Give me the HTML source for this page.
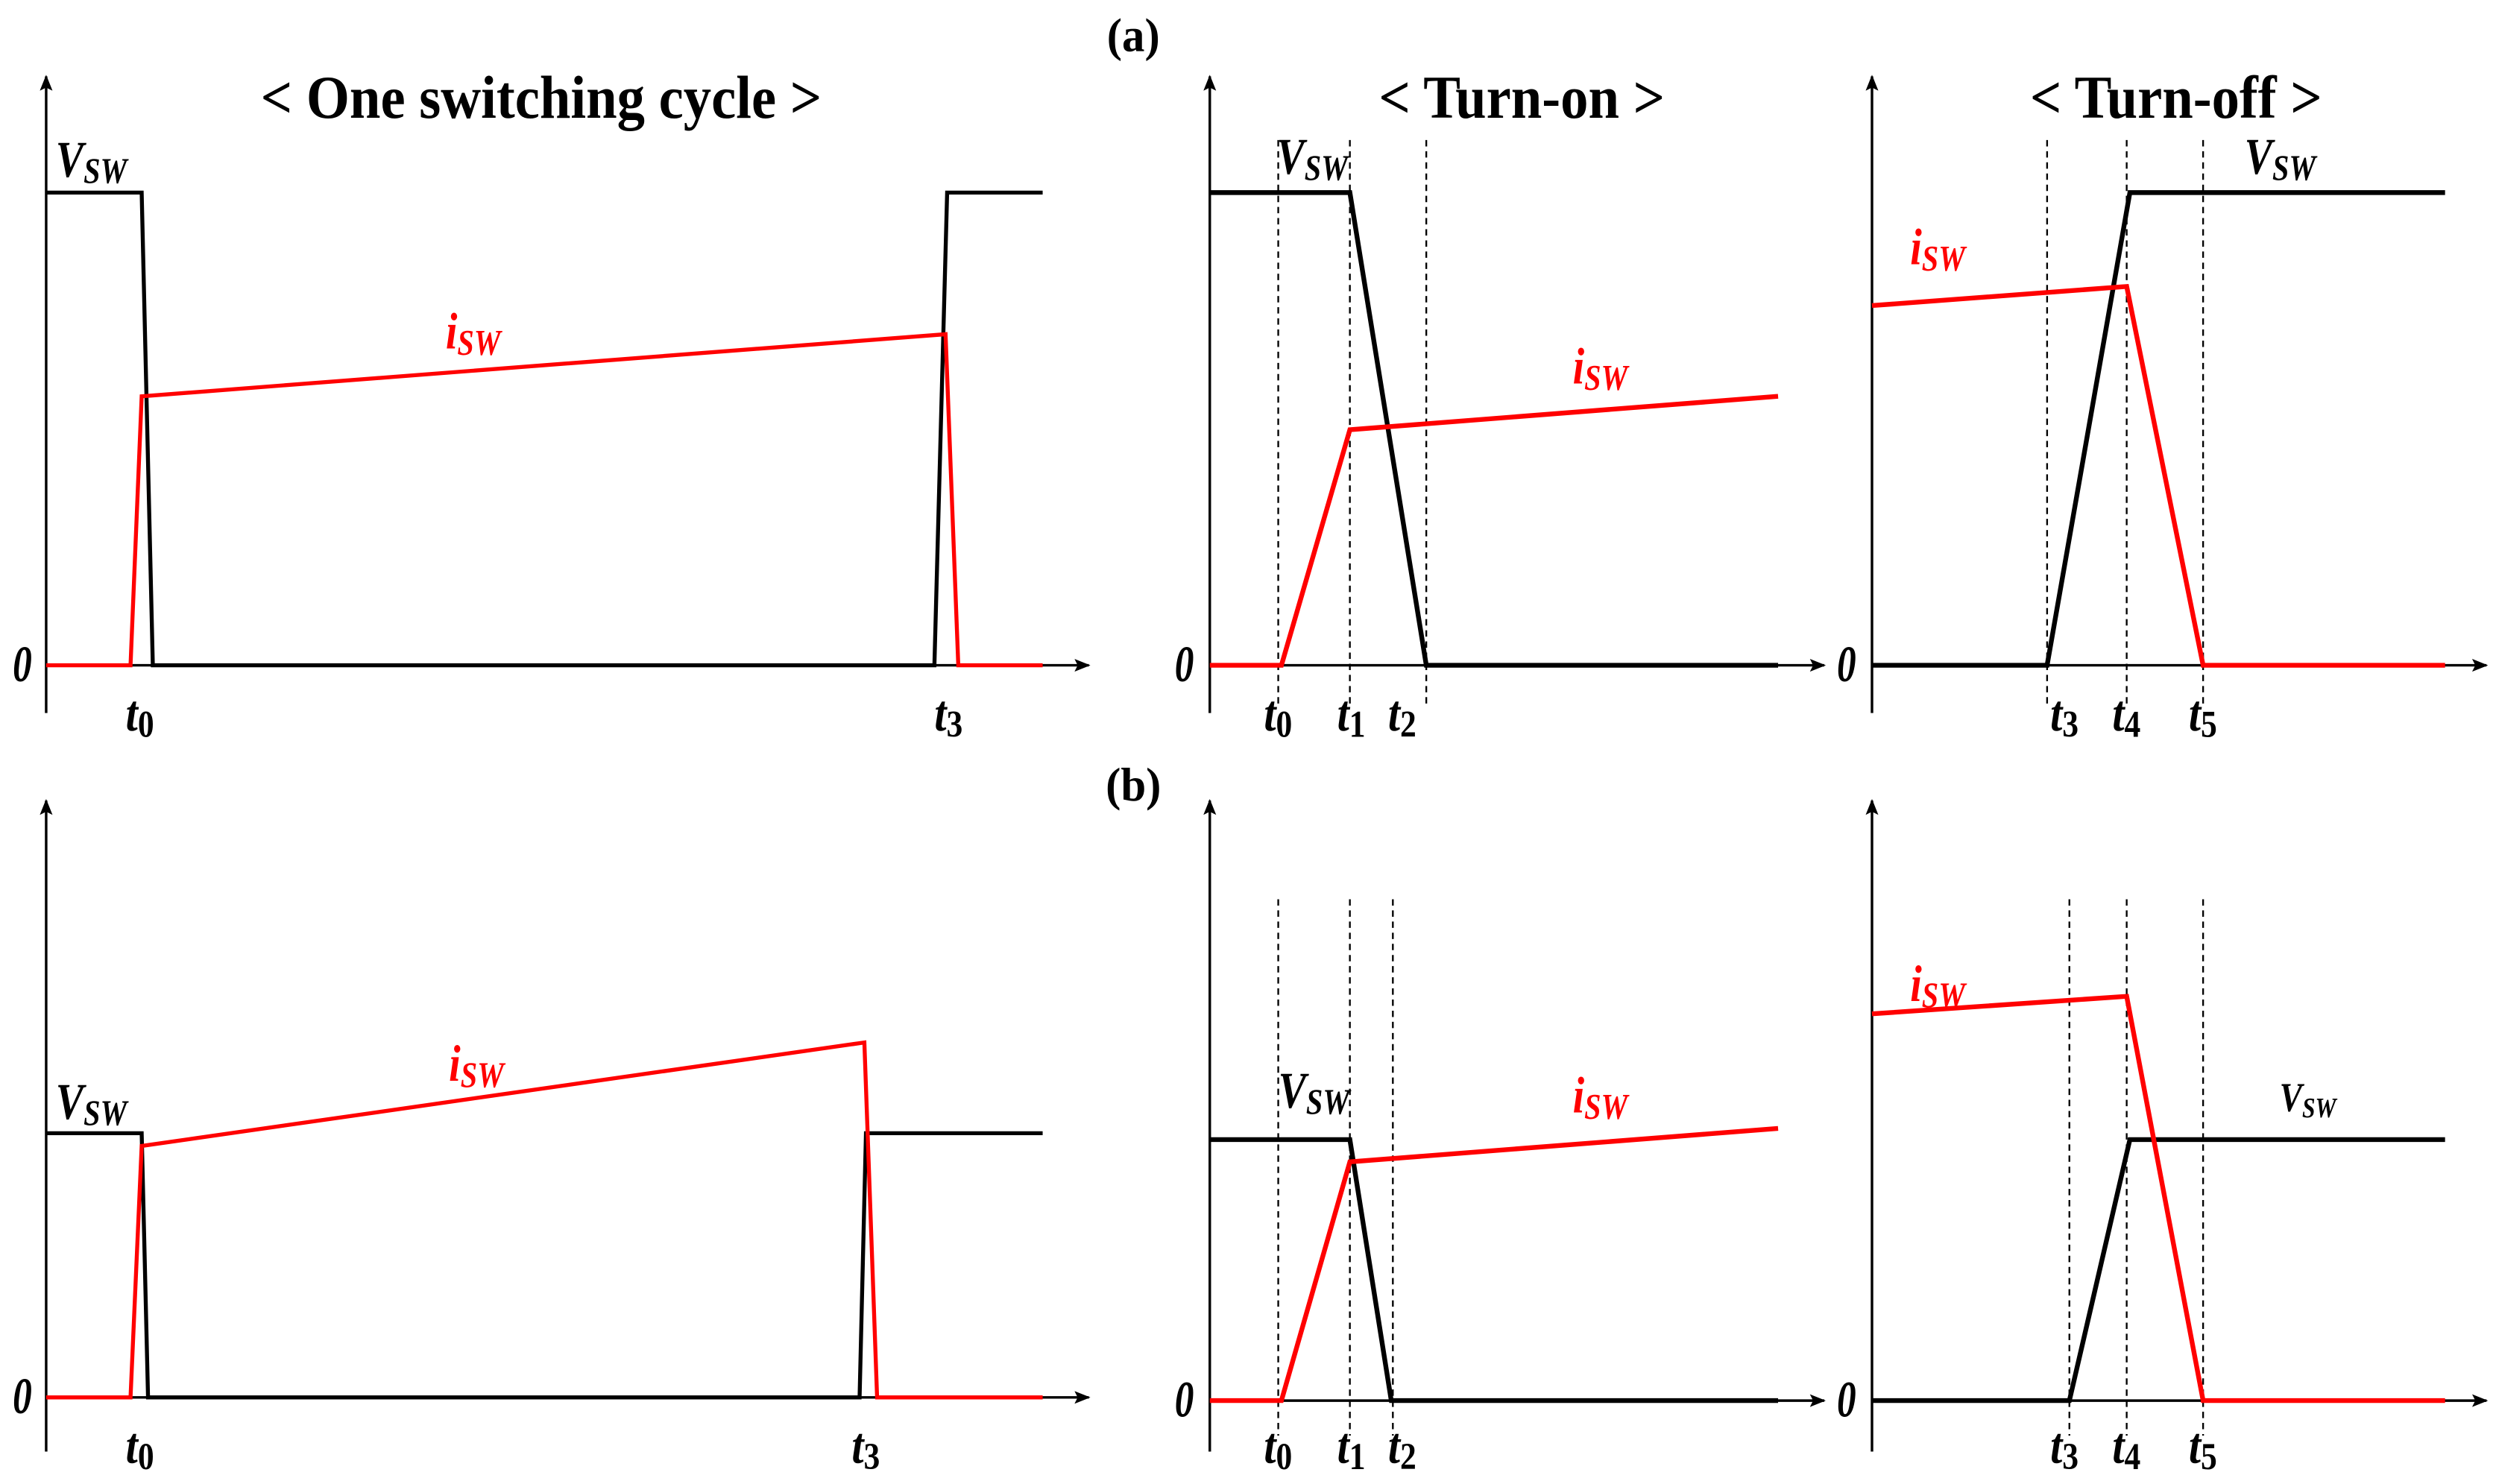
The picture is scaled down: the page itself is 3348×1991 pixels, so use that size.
<!DOCTYPE html>
<html><head><meta charset="utf-8"><style>
html,body{margin:0;padding:0;background:#fff;}
svg{display:block;}
text{font-family:"Liberation Serif",serif;font-weight:bold;}
.it{font-style:italic;}
</style></head><body>
<svg width="3348" height="1991" viewBox="0 0 1568 932.4" preserveAspectRatio="none" xmlns="http://www.w3.org/2000/svg">
<defs>
<marker id="ar" markerWidth="10" markerHeight="8" refX="9" refY="4" orient="auto" markerUnits="userSpaceOnUse"><path d="M0,0 L10,4 L0,8 L2,4 Z" fill="#000"/></marker>
</defs>
<g fill="none" stroke-linejoin="miter">
<g stroke="#000" stroke-width="1.6" marker-end="url(#ar)">
<line x1="29" y1="448" x2="29" y2="48"/><line x1="29" y1="418" x2="684" y2="418"/>
<line x1="760" y1="448" x2="760" y2="48"/><line x1="760" y1="418" x2="1146" y2="418"/>
<line x1="1176" y1="448" x2="1176" y2="48"/><line x1="1176" y1="418" x2="1562" y2="418"/>
<line x1="29" y1="912" x2="29" y2="503"/><line x1="29" y1="878" x2="684" y2="878"/>
<line x1="760" y1="912" x2="760" y2="503"/><line x1="760" y1="880" x2="1146" y2="880"/>
<line x1="1176" y1="912" x2="1176" y2="503"/><line x1="1176" y1="880" x2="1562" y2="880"/>
</g>
<g stroke="#000" stroke-width="1.1" stroke-dasharray="4,3">
<line x1="803" y1="88" x2="803" y2="442"/><line x1="848" y1="88" x2="848" y2="442"/><line x1="896" y1="88" x2="896" y2="442"/>
<line x1="1286" y1="88" x2="1286" y2="442"/><line x1="1336" y1="88" x2="1336" y2="442"/><line x1="1384" y1="88" x2="1384" y2="442"/>
<line x1="803" y1="565" x2="803" y2="902"/><line x1="848" y1="565" x2="848" y2="902"/><line x1="875" y1="565" x2="875" y2="902"/>
<line x1="1300" y1="565" x2="1300" y2="902"/><line x1="1336" y1="565" x2="1336" y2="902"/><line x1="1384" y1="565" x2="1384" y2="902"/>
</g>
<g stroke="#000" stroke-width="3">
<polyline stroke-width="2.5" points="29,121 89,121 96,418 587,418 595,121 655,121"/>
<polyline points="760,121 848,121 896,418 1117,418"/>
<polyline points="1176,418 1286,418 1338,121 1536,121"/>
<polyline stroke-width="2.5" points="29,712 89,712 93,878 540,878 544,712 655,712"/>
<polyline points="760,716 848,716 874,880 1117,880"/>
<polyline points="1176,880 1300,880 1338,716 1536,716"/>
</g>
<g stroke="#f00" stroke-width="3">
<polyline stroke-width="2.5" points="29,418 82,418 89,249 594,210 602,418 655,418"/>
<polyline points="760,418 805,418 848,270 1117,249"/>
<polyline points="1176,192 1336,180 1384,418 1536,418"/>
<polyline stroke-width="2.5" points="29,878 82,878 89,720 543,655 551,878 655,878"/>
<polyline points="760,880 805,880 848,730 1117,709"/>
<polyline points="1176,637 1336,626 1384,880 1536,880"/>
</g>
</g>
<g font-size="38">
<text transform="translate(340,74) scale(0.92,1)" text-anchor="middle">&lt; One switching cycle &gt;</text>
<text transform="translate(956,74) scale(0.92,1)" text-anchor="middle">&lt; Turn-on &gt;</text>
<text transform="translate(1367,74) scale(0.92,1)" text-anchor="middle">&lt; Turn-off &gt;</text>
<text transform="translate(712,32) scale(0.95,1)" text-anchor="middle" font-size="30">(a)</text>
<text transform="translate(712,503) scale(0.95,1)" text-anchor="middle" font-size="30">(b)</text>
</g>
<g class="it" font-size="32">
<g fill="#000">
<text transform="translate(8,428) scale(0.75,1)" class="it">0</text>
<text transform="translate(738,428) scale(0.75,1)" class="it">0</text>
<text transform="translate(1154,428) scale(0.75,1)" class="it">0</text>
<text transform="translate(8,888) scale(0.75,1)" class="it">0</text>
<text transform="translate(738,890) scale(0.75,1)" class="it">0</text>
<text transform="translate(1154,890) scale(0.75,1)" class="it">0</text>
</g>
<g fill="#000">
<text transform="translate(35,111) scale(0.82,1)" class="it">V<tspan font-size="23" dy="4">SW</tspan></text>
<text transform="translate(802,109) scale(0.82,1)" class="it">V<tspan font-size="23" dy="4">SW</tspan></text>
<text transform="translate(1410,109) scale(0.82,1)" class="it">V<tspan font-size="23" dy="4">SW</tspan></text>
<text transform="translate(35,703) scale(0.82,1)" class="it">V<tspan font-size="23" dy="4">SW</tspan></text>
<text transform="translate(803,696) scale(0.82,1)" class="it">V<tspan font-size="23" dy="4">SW</tspan></text>
<text transform="translate(1432,698) scale(0.82,1)" class="it" font-size="26" font-weight="normal">V<tspan font-size="18" dy="4">SW</tspan></text>
</g>
<g fill="#f00">
<text transform="translate(280,219) scale(0.82,1)" class="it">i<tspan font-size="23" dy="4">SW</tspan></text>
<text transform="translate(988,241) scale(0.82,1)" class="it">i<tspan font-size="23" dy="4">SW</tspan></text>
<text transform="translate(1200,166) scale(0.82,1)" class="it">i<tspan font-size="23" dy="4">SW</tspan></text>
<text transform="translate(282,679) scale(0.82,1)" class="it">i<tspan font-size="23" dy="4">SW</tspan></text>
<text transform="translate(988,699) scale(0.82,1)" class="it">i<tspan font-size="23" dy="4">SW</tspan></text>
<text transform="translate(1200,629) scale(0.82,1)" class="it">i<tspan font-size="23" dy="4">SW</tspan></text>
</g>
<g fill="#000">
<text transform="translate(79,459) scale(0.85,1)" class="it">t<tspan font-size="24" dy="4" font-style="normal">0</tspan></text>
<text transform="translate(587,459) scale(0.85,1)" class="it">t<tspan font-size="24" dy="4" font-style="normal">3</tspan></text>
<text transform="translate(794,459) scale(0.85,1)" class="it">t<tspan font-size="24" dy="4" font-style="normal">0</tspan></text>
<text transform="translate(840,459) scale(0.85,1)" class="it">t<tspan font-size="24" dy="4" font-style="normal">1</tspan></text>
<text transform="translate(872,459) scale(0.85,1)" class="it">t<tspan font-size="24" dy="4" font-style="normal">2</tspan></text>
<text transform="translate(1288,459) scale(0.85,1)" class="it">t<tspan font-size="24" dy="4" font-style="normal">3</tspan></text>
<text transform="translate(1327,459) scale(0.85,1)" class="it">t<tspan font-size="24" dy="4" font-style="normal">4</tspan></text>
<text transform="translate(1375,459) scale(0.85,1)" class="it">t<tspan font-size="24" dy="4" font-style="normal">5</tspan></text>
<text transform="translate(79,919) scale(0.85,1)" class="it">t<tspan font-size="24" dy="4" font-style="normal">0</tspan></text>
<text transform="translate(535,919) scale(0.85,1)" class="it">t<tspan font-size="24" dy="4" font-style="normal">3</tspan></text>
<text transform="translate(794,919) scale(0.85,1)" class="it">t<tspan font-size="24" dy="4" font-style="normal">0</tspan></text>
<text transform="translate(840,919) scale(0.85,1)" class="it">t<tspan font-size="24" dy="4" font-style="normal">1</tspan></text>
<text transform="translate(872,919) scale(0.85,1)" class="it">t<tspan font-size="24" dy="4" font-style="normal">2</tspan></text>
<text transform="translate(1288,919) scale(0.85,1)" class="it">t<tspan font-size="24" dy="4" font-style="normal">3</tspan></text>
<text transform="translate(1327,919) scale(0.85,1)" class="it">t<tspan font-size="24" dy="4" font-style="normal">4</tspan></text>
<text transform="translate(1375,919) scale(0.85,1)" class="it">t<tspan font-size="24" dy="4" font-style="normal">5</tspan></text>
</g>
</g>
</svg>
</body></html>
